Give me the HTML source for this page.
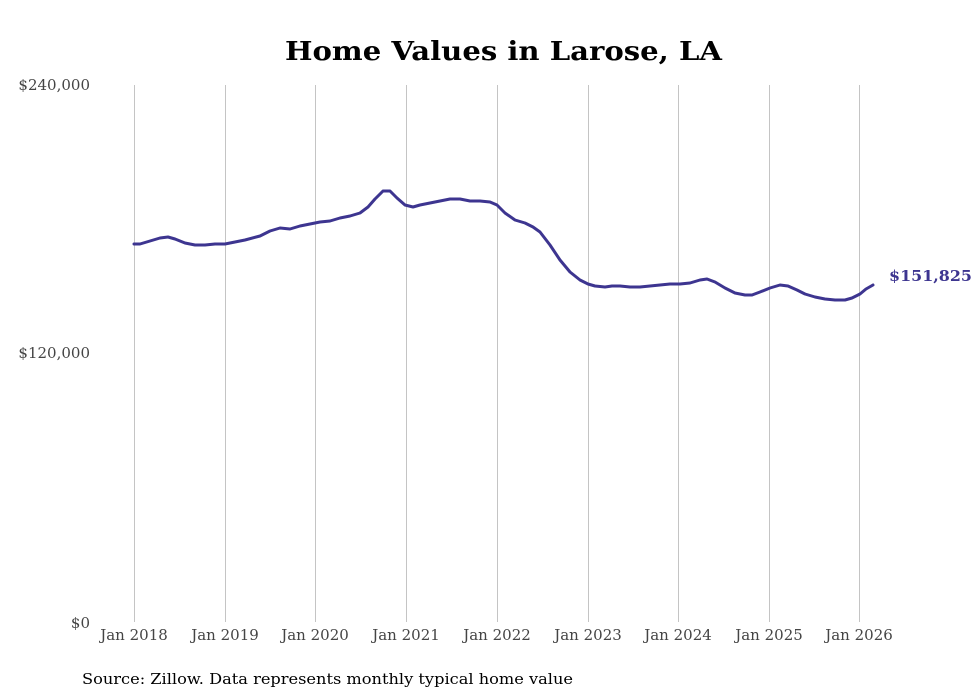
<!DOCTYPE html>
<html><head><meta charset="utf-8"><style>
body{margin:0;background:#fff;}
svg{display:block;font-family:"DejaVu Serif","Liberation Serif",serif;}
</style></head><body>
<svg width="980" height="699" viewBox="0 0 980 699">
<rect width="980" height="699" fill="#fff"/>
<text x="285" y="60" font-size="26" font-weight="bold" fill="#000" textLength="437" lengthAdjust="spacingAndGlyphs">Home Values in Larose, LA</text>
<g stroke="#c4c4c4" stroke-width="1">
<line x1="134.5" y1="85" x2="134.5" y2="622"/><line x1="225.5" y1="85" x2="225.5" y2="622"/>
<line x1="315.5" y1="85" x2="315.5" y2="622"/><line x1="406.5" y1="85" x2="406.5" y2="622"/>
<line x1="497.5" y1="85" x2="497.5" y2="622"/><line x1="588.5" y1="85" x2="588.5" y2="622"/>
<line x1="678.5" y1="85" x2="678.5" y2="622"/><line x1="769.5" y1="85" x2="769.5" y2="622"/>
<line x1="859.5" y1="85" x2="859.5" y2="622"/>
</g>
<g font-size="15" fill="#444" text-anchor="end">
<text x="90" y="90">$240,000</text><text x="90" y="358">$120,000</text><text x="90" y="628">$0</text>
</g>
<g font-size="15" fill="#444" text-anchor="middle">
<text x="134" y="640">Jan 2018</text><text x="225" y="640">Jan 2019</text><text x="315" y="640">Jan 2020</text>
<text x="406" y="640">Jan 2021</text><text x="497" y="640">Jan 2022</text><text x="588" y="640">Jan 2023</text>
<text x="678" y="640">Jan 2024</text><text x="769" y="640">Jan 2025</text><text x="859" y="640">Jan 2026</text>
</g>
<polyline fill="none" stroke="#3d3590" stroke-width="3" stroke-linejoin="round" stroke-linecap="round" points="134,244 140,244 150,241 160,238 168,237 175,239 185,243 195,245 205,245 215,244 225,244 235,242 245,240 260,236 270,231 280,228 290,229 300,226 310,224 320,222 330,221 340,218 350,216 360,213 368,207 375,199 383,191 390,191 397,198 405,205 413,207 420,205 430,203 440,201 450,199 460,199 470,201 480,201 490,202 497,205 505,213 515,220 525,223 533,227 540,232 550,245 560,260 570,272 580,280 588,284 595,286 605,287 612,286 620,286 630,287 640,287 650,286 660,285 670,284 680,284 690,283 700,280 707,279 715,282 725,288 735,293 745,295 752,295 760,292 770,288 780,285 788,286 797,290 805,294 815,297 825,299 835,300 845,300 852,298 860,294 866,289 873,285"/>
<text x="889" y="281" font-size="15" font-weight="bold" fill="#3d3590" textLength="83" lengthAdjust="spacingAndGlyphs">$151,825</text>
<text x="82" y="684" font-size="15" fill="#000" textLength="491" lengthAdjust="spacingAndGlyphs">Source: Zillow. Data represents monthly typical home value</text>
</svg>
</body></html>
